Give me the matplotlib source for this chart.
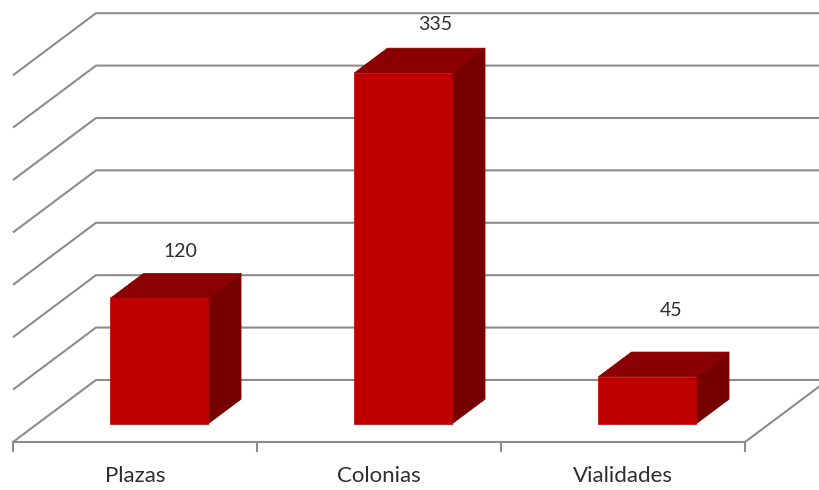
import matplotlib
matplotlib.use("Agg")
import matplotlib.pyplot as plt
from matplotlib.patches import Polygon

categories = ["Plazas", "Colonias", "Vialidades"]
values = [120, 335, 45]
grid_values = [0, 50, 100, 150, 200, 250, 300, 350]

# oblique projection parameters (category units, value units)
DX = 0.340
DY = 59.2

def proj(xc, v, d):
    return xc + d * DX, v + (d - 1.0) * DY

FRONT = "#C00000"
TOP = "#8A0000"
SIDE = "#760000"
GRID = "#8C8C8C"
TEXT = "#2E2E2E"

fig = plt.figure(figsize=(8.2, 4.9), dpi=100)
ax = fig.add_axes([0, 0, 1, 1])
ax.set_xlim(-13 / 244, 807 / 244)
ax.set_ylim(-105.0, 362.6)
ax.axis("off")

n = len(categories)
# back wall + left wall gridlines
for g in grid_values:
    x0, y0 = proj(0, g, 0)
    x1, y1 = proj(0, g, 1)
    x2, y2 = proj(n + 0.5, g, 1)
    ax.plot([x0, x1, x2], [y0, y1, y2], color=GRID, lw=1.5,
            solid_capstyle="butt", zorder=1)

# floor front and right edge
fx0, fy0 = proj(0, 0, 0)
fx1, fy1 = proj(n, 0, 0)
fx2, fy2 = proj(n, 0, 1)
ax.plot([fx0, fx1, fx2], [fy0, fy1, fy2], color=GRID, lw=1.5, zorder=1)
# tick marks
for i in range(n + 1):
    tx, ty = proj(i, 0, 0)
    ax.plot([tx, tx], [ty, ty - 8.5], color=GRID, lw=1.5, zorder=1)

# bars
w0, w1 = 0.30, 0.70
d0, d1 = 0.29, 0.69
for i, v in enumerate(values):
    xl, xr = i + w0, i + w1
    front = [proj(xl, 0, d0), proj(xr, 0, d0), proj(xr, v, d0), proj(xl, v, d0)]
    top = [proj(xl, v, d0), proj(xr, v, d0), proj(xr, v, d1), proj(xl, v, d1)]
    side = [proj(xr, 0, d0), proj(xr, 0, d1), proj(xr, v, d1), proj(xr, v, d0)]
    ax.add_patch(Polygon(side, closed=True, facecolor=SIDE, edgecolor=SIDE, lw=0.5, zorder=3))
    ax.add_patch(Polygon(top, closed=True, facecolor=TOP, edgecolor=TOP, lw=0.5, zorder=3))
    ax.add_patch(Polygon(front, closed=True, facecolor=FRONT, edgecolor=FRONT, lw=0.5, zorder=4))

# value labels (baseline placement)
label_offsets = [24.0, 17.9, 40.9]
label_depths = [0.55, 0.68, 0.58]
for i, v in enumerate(values):
    lx, ly = proj(i + 0.5, v + label_offsets[i], label_depths[i])
    ax.text(lx, ly, str(v), ha="center", va="baseline", fontsize=14,
            family="Lato", color=TEXT, zorder=5)

# category labels
for i, c in enumerate(categories):
    cx, cy = proj(i + 0.5, 0, 0)
    ax.text(cx, cy - 38.1, c, ha="center", va="baseline", fontsize=16,
            family="Lato", color=TEXT, zorder=5)

fig.savefig("out.png", dpi=100)
